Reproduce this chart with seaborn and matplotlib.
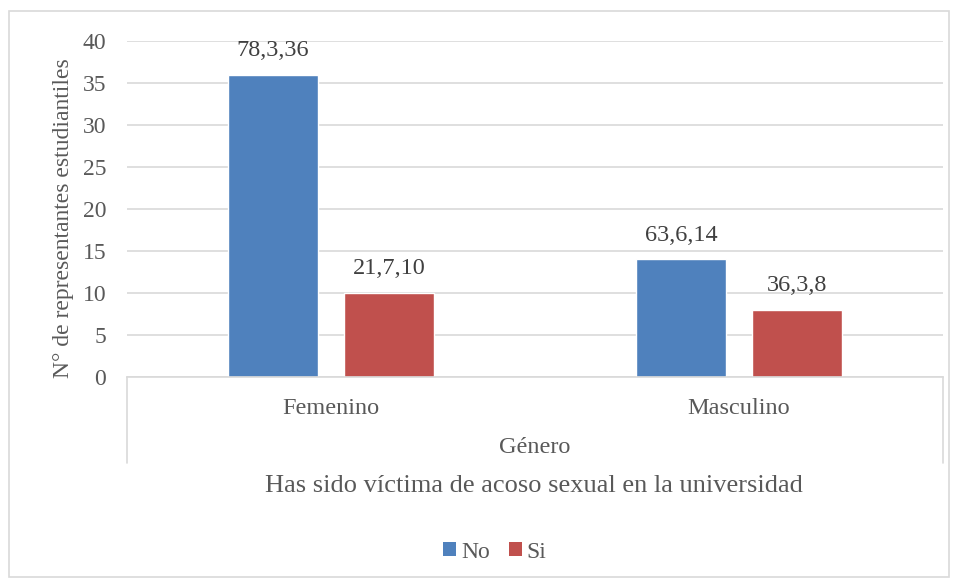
import pandas as pd
import matplotlib.pyplot as plt
import seaborn as sns
from matplotlib.patches import Rectangle, Patch
from matplotlib.lines import Line2D

# ==========================================
# Datos
# ==========================================
GENEROS = ['Femenino', 'Masculino']
RESPUESTAS = ['No', 'Si']
VALORES_NO = [36, 14]
VALORES_SI = [10, 8]
ETIQUETAS_NO = ['78,3,36', '63,6,14']
ETIQUETAS_SI = ['21,7,10', '36,3,8']
COLORES = ['#4F81BD', '#C0504D']

df = pd.DataFrame({
    'Genero': GENEROS * 2,
    'Respuesta': [RESPUESTAS[0]] * 2 + [RESPUESTAS[1]] * 2,
    'Valor': VALORES_NO + VALORES_SI,
})

sns.set_theme(style='white')
plt.rcParams['font.family'] = ['Liberation Serif', 'DejaVu Serif']
TXT = '#595959'

fig = plt.figure(figsize=(9.57, 5.81), dpi=100)
ax = fig.add_axes([0.1327, 0.351, 0.8527, 0.5784])

sns.barplot(data=df, x='Genero', y='Valor', hue='Respuesta', order=GENEROS,
            hue_order=RESPUESTAS, palette=COLORES, width=0.569, gap=0.224,
            saturation=1, legend=False, ax=ax)

# etiquetas de datos
for cont, labs in zip(ax.containers, [ETIQUETAS_NO, ETIQUETAS_SI]):
    ax.bar_label(cont, labels=labs, padding=10, fontsize=17.5, color='#404040')

ax.set_xlim(-0.5, 1.5)
ax.set_ylim(0, 40)
ax.set_yticks(range(0, 41, 5))
ax.yaxis.grid(True, color='#D9D9D9', linewidth=1.2)
ax.set_axisbelow(True)
for s in ['top', 'right', 'left']:
    ax.spines[s].set_visible(False)
ax.spines['bottom'].set_color('#D9D9D9')
ax.spines['bottom'].set_linewidth(1.2)
ax.tick_params(axis='y', length=0, pad=15, labelsize=17, labelcolor=TXT)
ax.tick_params(axis='x', length=0, pad=15, labelsize=17.5, labelcolor=TXT)
ax.set_xlabel('')
ax.set_ylabel('')

# caja del eje de categorías (nivel "Género")
for xa in [0, 1]:
    ax.add_line(Line2D([xa, xa], [0, -0.256], transform=ax.transAxes,
                       color='#D9D9D9', linewidth=1.2, clip_on=False))
ax.text(0.5, -0.211, 'Género', transform=ax.transAxes, ha='center', va='center',
        fontsize=17.5, color=TXT)

fig.text(0.066, 0.625, 'N° de representantes estudiantiles', rotation=90,
         ha='center', va='center', fontsize=17, color=TXT)
fig.text(0.558, 1 - 486 / 581, 'Has sido víctima de acoso sexual en la universidad',
         ha='center', va='center', fontsize=19, color=TXT)

handles = [Patch(facecolor=c, edgecolor='none') for c in COLORES]
fig.legend(handles, RESPUESTAS, loc='center', bbox_to_anchor=(0.517, 1 - 552 / 581),
           ncol=2, frameon=False, fontsize=17, labelcolor=TXT, handlelength=0.55,
           handleheight=0.55, handletextpad=0.2, columnspacing=0.8)

# borde del gráfico
fig.patches.append(Rectangle((9 / 957, 4 / 581), 940 / 957, 566 / 581,
                             transform=fig.transFigure, fill=False,
                             edgecolor='#D9D9D9', linewidth=1.2))

fig.savefig('out.png', dpi=100)
